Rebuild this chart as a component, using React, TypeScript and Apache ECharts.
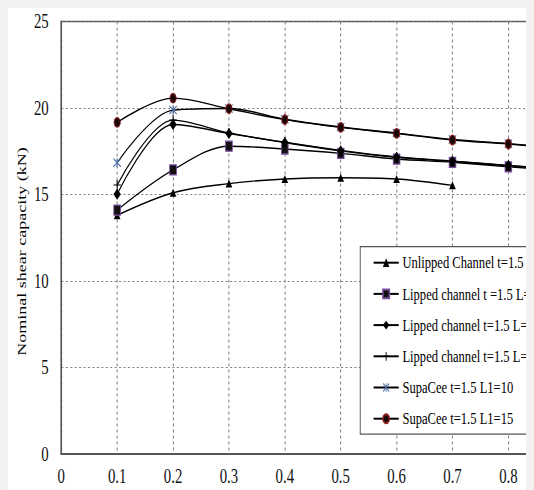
import React, { useEffect, useRef } from "react";
import * as echarts from "echarts";

const xValues = [0.1, 0.2, 0.3, 0.4, 0.5, 0.6, 0.7, 0.8, 0.9];
const unlipped = [13.8, 15.1, 15.63, 15.9, 15.97, 15.9, 15.53];
const lipped10 = [14.1, 16.42, 17.79, 17.63, 17.38, 17.05, 16.86, 16.6, 16.4];
const lipped20 = [15.02, 19.05, 18.53, 18.0, 17.52, 17.15, 16.92, 16.67, 16.45];
const lipped30 = [15.55, 19.3, 18.56, 18.02, 17.55, 17.17, 16.93, 16.68, 16.47];
const supa10 = [16.84, 19.88, 19.97, 19.35, 18.9, 18.55, 18.18, 17.94, 17.65];
const supa15 = [19.17, 20.57, 19.96, 19.33, 18.88, 18.53, 18.15, 17.92, 17.62];
const seriesNames = [
  "Unlipped Channel t=1.5",
  "Lipped channel t =1.5 L=10",
  "Lipped channel t=1.5 L=20",
  "Lipped channel t=1.5 L=30",
  "SupaCee t=1.5 L1=10",
  "SupaCee t=1.5 L1=15",
];
const yTitle = "Nominal shear capacity (kN)";

const SX = 0.74;
const INNER_W = 900;
const FONT = "'Liberation Serif', 'Times New Roman', serif";

const plusPath =
  "path://M0,4.5 L10,4.5 L10,5.5 L0,5.5 Z M4.3,0 L5.7,0 L5.7,10 L4.3,10 Z";
const starPath =
  "path://M0,0.9 L0.9,0 L10,9.1 L9.1,10 Z M9.1,0 L10,0.9 L0.9,10 L0,9.1 Z M4.4,0 L5.6,0 L5.6,10 L4.4,10 Z";

function pairs(ys: number[]) {
  return ys.map((y, i) => [xValues[i], y]);
}

export default function App() {
  const ref = useRef<HTMLDivElement>(null);
  useEffect(() => {
    document.body.style.background = "#f2f2f2";
    const chart = echarts.init(ref.current!, null, { renderer: "svg" });
    const lineStyle = { color: "#000", width: 1.4 };
    const mk = (
      name: string,
      ys: number[],
      symbol: string,
      size: number[],
      itemStyle: any
    ) => ({
      name,
      type: "line",
      data: pairs(ys),
      smooth: 0.34,
      symbol,
      symbolSize: size,
      showSymbol: true,
      lineStyle,
      itemStyle,
    });
    chart.setOption({
      animation: false,
      backgroundColor: "#fff",
      grid: {
        left: 72,
        right: INNER_W - 751.7,
        top: 13.5,
        bottom: 36,
        outerBoundsMode: "none",
        containLabel: false,
        show: true,
        borderColor: "#555",
        borderWidth: 1.5,
      },
      xAxis: {
        type: "value",
        min: 0,
        max: 0.9,
        interval: 0.1,
        axisLine: { show: true, lineStyle: { color: "#555", width: 2 } },
        axisTick: { show: false },
        axisLabel: {
          margin: 12,
          fontFamily: FONT,
          fontSize: 20,
          color: "#111",
          showMaxLabel: false,
          formatter: (v: number) => (v === 0 ? "0" : v.toFixed(1)),
        },
        splitLine: {
          show: true,
          lineStyle: { color: "#777", type: [3, 3], width: 1.3 },
        },
      },
      yAxis: {
        type: "value",
        min: 0,
        max: 25,
        interval: 5,
        axisLine: { show: true, lineStyle: { color: "#555", width: 2 } },
        axisTick: { show: false },
        axisLabel: {
          margin: 17,
          fontFamily: FONT,
          fontSize: 20,
          color: "#111",
        },
        splitLine: {
          show: true,
          lineStyle: { color: "#777", type: [3, 3], width: 1 },
        },
      },
      legend: {
        orient: "vertical",
        left: 476,
        top: 238.7,
        padding: [7.5, 30, 7, 17],
        itemGap: 14.2,
        itemWidth: 34,
        itemHeight: 11,
        backgroundColor: "#fff",
        borderColor: "#555",
        borderWidth: 1.3,
        textStyle: {
          fontFamily: FONT,
          fontSize: 17,
          lineHeight: 17,
          color: "#000",
        },
        data: seriesNames,
      },
      graphic: [
        {
          type: "text",
          x: 17.6,
          y: 243.5,
          rotation: Math.PI / 2,
          style: {
            text: yTitle,
            font: `18px ${FONT}`,
            fill: "#000",
            textAlign: "center",
            textVerticalAlign: "middle",
          },
        },
      ],
      series: [
        mk(seriesNames[0], unlipped, "triangle", [9, 8], { color: "#000" }),
        mk(seriesNames[1], lipped10, "rect", [9, 10], {
          color: "#111",
          borderColor: "#7a4f9f",
          borderWidth: 1.2,
        }),
        mk(seriesNames[2], lipped20, "diamond", [10, 11], { color: "#000" }),
        mk(seriesNames[3], lipped30, plusPath, [10, 10], { color: "#000" }),
        mk(seriesNames[4], supa10, starPath, [11, 9], { color: "#4f72a8" }),
        mk(seriesNames[5], supa15, "circle", [8.5, 9.5], {
          color: "#1a0808",
          borderColor: "#8b1e1e",
          borderWidth: 1.2,
        }),
      ],
    });
    return () => chart.dispose();
  }, []);
  return (
    <div
      style={{
        width: 526,
        height: 482,
        overflow: "hidden",
        background: "#fff",
        position: "relative",
      }}
    >
      <div
        ref={ref}
        style={{
          width: INNER_W,
          height: 482,
          transform: `scaleX(${SX})`,
          transformOrigin: "0 0",
        }}
      />
    </div>
  );
}
